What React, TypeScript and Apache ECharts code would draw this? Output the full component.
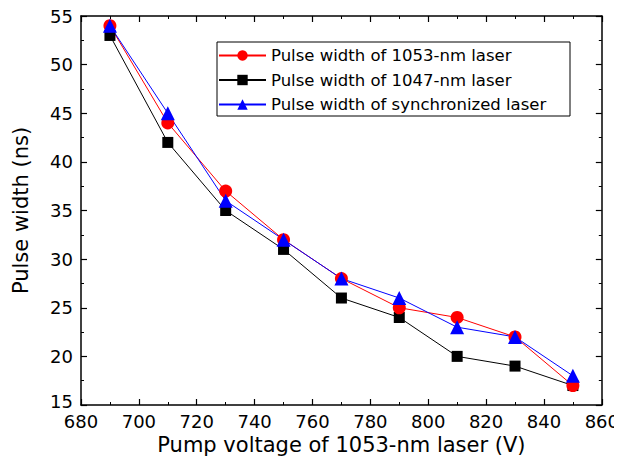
import React, { useEffect, useRef } from "react";
import * as echarts from "echarts";

const voltages = [690, 710, 730, 750, 770, 790, 810, 830, 850];
const width1053 = [54, 44, 37, 32, 28, 25, 24, 22, 17];
const width1047 = [53, 42, 35, 31, 26, 24, 20, 19, 17];
const widthSync = [54, 45, 36, 32, 28, 26, 23, 22, 18];

const name1053 = "Pulse width of 1053-nm laser";
const name1047 = "Pulse width of 1047-nm laser";
const nameSync = "Pulse width of synchronized laser";

const FONT = "DejaVu Sans";
const Y_MIN = 15;

export default function App() {
  const ref = useRef<HTMLDivElement>(null);
  useEffect(() => {
    if (!ref.current) return;
    const chart = echarts.init(ref.current, null, { renderer: "svg" });
    const pair = (ys: number[]) => voltages.map((x, i) => [x, ys[i]]);
    const axisCommon = {
      axisLine: { show: true, onZero: false, lineStyle: { color: "#000", width: 1.5 } },
      axisTick: { show: true, inside: true, length: 6, lineStyle: { color: "#000", width: 1.2 } },
      minorTick: { show: true, splitNumber: 2, length: 3, lineStyle: { color: "#000", width: 1 } },
      splitLine: { show: false },
    };
    chart.setOption({
      animation: false,
      backgroundColor: "#fff",
      textStyle: { fontFamily: FONT },
      grid: { left: 81, right: 19, top: 16, bottom: 68, containLabel: false },
      xAxis: [
        {
          type: "value",
          min: 680,
          max: 860,
          interval: 20,
          position: "bottom",
          name: "Pump voltage of 1053-nm laser (V)",
          nameLocation: "middle",
          nameGap: 26,
          nameTextStyle: { fontSize: 21, color: "#000", fontFamily: FONT },
          axisLabel: { fontSize: 18, lineHeight: 12, color: "#000", margin: 10, fontFamily: FONT },
          ...axisCommon,
        },
        {
          type: "value",
          min: 680,
          max: 860,
          interval: 20,
          position: "top",
          axisLabel: { show: false },
          ...axisCommon,
        },
      ],
      yAxis: [
        {
          type: "value",
          min: Y_MIN,
          max: 55,
          interval: 5,
          position: "left",
          name: "Pulse width (ns)",
          nameLocation: "middle",
          nameGap: 50,
          nameTextStyle: { fontSize: 21, color: "#000", fontFamily: FONT },
          axisLabel: {
            fontSize: 18,
            lineHeight: 12,
            color: "#000",
            margin: 8,
            fontFamily: FONT,
            formatter: (v: number) => (v === Y_MIN ? `{low|${v}}` : `${v}`),
            rich: {
              low: { fontSize: 18, lineHeight: 12, color: "#000", fontFamily: FONT, padding: [0, 0, 8, 0] },
            },
          },
          ...axisCommon,
        },
        {
          type: "value",
          min: Y_MIN,
          max: 55,
          interval: 5,
          position: "right",
          axisLabel: { show: false },
          ...axisCommon,
        },
      ],
      legend: {
        orient: "vertical",
        left: 213,
        top: 42,
        padding: 5,
        itemWidth: 47,
        itemHeight: 13,
        itemGap: 7.5,
        data: [name1053, name1047, nameSync],
        textStyle: { fontSize: 16.5, color: "#000", fontFamily: FONT },
      },
      graphic: [
        {
          type: "rect",
          shape: { x: 217, y: 42, width: 353, height: 74 },
          style: { fill: "none", stroke: "#000", lineWidth: 1 },
          silent: true,
          z: 100,
        },
      ],
      series: [
        {
          name: name1047,
          type: "line",
          data: pair(width1047),
          symbol: "rect",
          symbolSize: 11,
          color: "#000",
          lineStyle: { width: 1, color: "#000" },
          itemStyle: { color: "#000" },
        },
        {
          name: name1053,
          type: "line",
          data: pair(width1053),
          symbol: "circle",
          symbolSize: 13,
          color: "#ff0000",
          lineStyle: { width: 1, color: "#ff0000" },
          itemStyle: { color: "#ff0000" },
        },
        {
          name: nameSync,
          type: "line",
          data: pair(widthSync),
          symbol: "triangle",
          symbolSize: 14,
          color: "#0000ff",
          lineStyle: { width: 1, color: "#0000ff" },
          itemStyle: { color: "#0000ff" },
        },
      ],
    });
    return () => chart.dispose();
  }, []);
  return <div ref={ref} style={{ width: 622, height: 473, margin: -8 }} />;
}
